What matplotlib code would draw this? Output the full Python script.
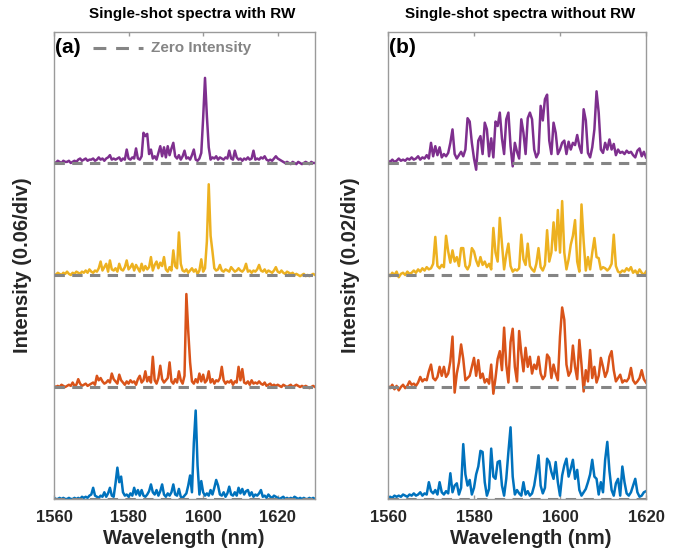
import numpy as np
import matplotlib
matplotlib.use("Agg")
import matplotlib.pyplot as plt

plt.rcParams['font.family'] = ['Liberation Sans', 'DejaVu Sans']
plt.rcParams['font.weight'] = 'bold'

# ---------------- data (intensity in % of one trace spacing) ----------------
wl_a = np.arange(1560, 1630.01, 0.5)   # panel (a) wavelength grid (nm)
wl_b = np.arange(1560, 1620.01, 0.5)   # panel (b) wavelength grid (nm)

a_purple = [1, 0, 2, 1, 0, 2, 1, 1, 2, 0,
            1, 2, 1, 3, 4, 2, 3, 4, 2, 3,
            3, 4, 2, 3, 5, 3, 4, 2, 4, 5,
            7, 3, 4, 3, 4, 5, 2, 4, 3, 12,
            4, 3, 5, 4, 13, 4, 3, 6, 27, 24,
            26, 8, 12, 4, 6, 3, 9, 15, 6, 14,
            5, 15, 7, 13, 18, 6, 4, 7, 3, 6,
            11, 4, 5, 3, 7, 12, 3, 2, 4, 9,
            40, 76, 42, 14, 3, 5, 4, 6, 3, 5,
            4, 3, 5, 4, 11, 4, 3, 11, 5, 3,
            4, 2, 4, 3, 5, 3, 4, 11, 3, 4,
            3, 5, 4, 6, 3, 2, 3, 2, 4, 6,
            4, 3, 2, 1, 0, 1, 0, -1, 1, 0,
            -1, 1, 0, -1, 0, 1, 0, -1, 1, 0,
            0]
a_yellow = [1, 0, 2, 1, 0, 2, 1, 3, 1, 0,
            2, 1, 3, 2, 1, 3, 2, 4, 2, 5,
            3, 2, 4, 3, 6, 12, 4, 7, 10, 3,
            13, 5, 4, 6, 3, 10, 5, 4, 7, 13,
            5, 7, 10, 4, 9, 6, 3, 10, 4, 8,
            5, 7, 16, 4, 9, 12, 6, 11, 8, 16,
            5, 3, 7, 4, 22, 8, 6, 38, 10, 4,
            3, 5, 2, 4, 6, 3, 5, 1, 4, 14,
            3, 6, 30, 81, 35, 21, 6, 4, 5, 9,
            4, 3, 5, 4, 3, 7, 5, 3, 4, 6,
            4, 3, 5, 10, 3, 4, 2, 4, 3, 5,
            9, 4, 3, 5, 2, 4, 3, 2, 4, 7,
            3, 2, 4, 2, 1, 3, 2, 1, 2, 0,
            1, 0, -1, 0, 1, -1, 0, -1, 0, 1,
            0]
a_orange = [1, 0, 1, 0, 2, 1, 0, 1, 2, 1,
            4, 1, 2, 7, 3, 1, 2, 3, 1, 2,
            3, 4, 2, 10, 6, 8, 5, 3, 4, 6,
            4, 12, 7, 5, 3, 11, 6, 4, 2, 5,
            3, 6, 4, 5, 2, 7, 10, 4, 6, 14,
            5, 9, 4, 27, 6, 3, 8, 19, 7, 4,
            6, 8, 22, 5, 3, 7, 4, 14, 6, 3,
            10, 83, 50, 22, 5, 3, 7, 4, 12, 5,
            11, 4, 6, 14, 4, 7, 3, 6, 5, 8,
            18, 6, 3, 5, 4, 6, 2, 5, 4, 18,
            6, 16, 4, 3, 5, 2, 6, 3, 4, 3,
            5, 3, 2, 4, 1, 2, 3, 1, 2, 1,
            2, 1, 0, 2, 1, 0, 1, 2, 0, 1,
            2, 1, 0, 1, 0, 1, 0, -1, 0, 1,
            0]
a_blue = [1, 0, 0, 1, 0, 1, 0, 0, 1, 0,
          0, 1, 0, 1, 0, 2, 1, 2, 1, 3,
          4, 10, 3, 2, 1, 3, 2, 6, 2, 5,
          10, 3, 2, 14, 28, 15, 20, 6, 3, 4,
          2, 5, 3, 10, 4, 8, 3, 8, 3, 2,
          4, 7, 13, 6, 4, 8, 3, 7, 13, 4,
          2, 5, 3, 6, 13, 4, 3, 9, 2, 1,
          3, 5, 12, 21, 6, 50, 79, 30, 4, 16,
          6, 3, 5, 3, 8, 4, 10, 17, 12, 4,
          3, 6, 2, 5, 11, 4, 3, 6, 3, 10,
          5, 9, 4, 7, 8, 3, 6, 2, 4, 3,
          5, 8, 2, 3, 1, 4, 2, 1, 3, 2,
          1, 0, 1, 2, 0, 1, 0, 1, 0, 2,
          1, 0, 1, 0, 1, 0, 0, 1, 0, 1,
          0]

b_purple = [2, 1, 3, 1, 2, 4, 2, 3, 2, 4,
            3, 5, 3, 4, 6, 3, 5, 4, 7, 4,
            18, 6, 15, 7, 14, 5, 8, 6, 9, 18,
            30, 8, 4, 7, 10, 6, 12, 40, 37, 18,
            4, -6, 20, 24, 8, 36, 30, 6, 22, 5,
            37, 33, 45, 22, 8, 39, 45, 15, -3, 18,
            10, 4, 39, 27, 8, 40, 45, 39, 12, 5,
            9, 51, 38, 57, 61, 20, 8, 36, 27, 8,
            12, 18, 20, 8, 19, 12, 18, 16, 25, 15,
            9, 48, 38, 9, 5, 14, 30, 64, 45, 12,
            9, 18, 12, 21, 12, 17, 7, 12, 9, 10,
            8, 11, 9, 10, 7, 5, 11, 13, 6, 10,
            5]
b_yellow = [1, -1, 2, 0, 3, -2, 1, 2, 0, 3,
            1, 2, 4, 2, 5, 3, 6, 4, 7, 5,
            6, 10, 34, 8, 6, 9, 7, 35, 21, 11,
            22, 12, 16, 8, 24, 24, 8, 5, 9, 24,
            21, 13, 8, 16, 9, 12, 7, 10, 5, 42,
            20, 12, 51, 28, 5, 18, 28, 8, 3, 5,
            4, 6, 36, 14, 9, 28, 8, 5, 3, 10,
            24, 7, 4, 9, 40, 12, 20, 47, 22, 58,
            20, 66, 20, 5, 14, 27, 35, 49, 12, 3,
            63, 30, 4, 16, 5, 20, 33, 16, 15, 5,
            7, 6, 4, 6, 10, 36, 8, 3, 2, 4,
            3, 6, 4, 7, 2, 4, 1, 5, 2, 0,
            3]
b_orange = [1, -1, 2, -2, 1, -3, 0, 2, -1, 1,
            5, 2, 3, 1, 4, 9, 5, 7, 6, 14,
            20, 8, 6, 9, 18, 10, 18, 9, 12, 23,
            45, -5, 12, 22, 38, 25, 6, 8, 10, 18,
            26, 10, 24, 8, 12, 4, 7, 3, 20, -6,
            8, 25, 32, 15, 53, 20, 4, 40, 52, 18,
            5, 50, 30, 14, 35, 18, 27, 12, 20, 16,
            27, 12, 7, 10, 29, 26, 8, 20, 12, 6,
            45, 71, 60, 20, 10, 14, 37, 18, 7, 42,
            20, -4, 15, 5, 33, 8, 18, 4, 10, 26,
            18, 9, 14, 27, 32, 15, 5, 8, 11, 4,
            6, 5, 8, 17, 6, 3, 5, 8, 15, 7,
            4]
b_blue = [1, 2, 1, 3, 2, 3, 2, 4, 3, 2,
          4, 3, 5, 3, 4, 6, 3, 5, 4, 15,
          7, 5, 8, 4, 15, 6, 4, 7, 5, 23,
          6, 12, 14, 4, 10, 49, 22, 12, 17, 4,
          10, 22, 29, 43, 42, 15, 3, 9, 45, 20,
          18, 33, 34, 12, 3, 18, 42, 64, 20, 4,
          8, 5, 3, 15, 4, 7, 3, 5, 12, 24,
          39, 12, 5, 10, 36, 33, 24, 18, 33, 15,
          3, 21, 30, 36, 20, 27, 35, 18, 26, 8,
          3, 6, 9, 15, 22, 35, 20, 18, 4, 15,
          6, 35, 51, 25, 8, 3, 14, 18, 3, 29,
          15, 5, 3, 6, 12, 18, 6, 2, 3, 6,
          7]

xticks_a = [1560, 1580, 1600, 1620]
xticks_b = [1560, 1580, 1600, 1620]
titles = ["Single-shot spectra with RW", "Single-shot spectra without RW"]
ylabels = ["Intensity (0.06/div)", "Intensity (0.02/div)"]
panel_tags = ["(a)", "(b)"]
xlabel = "Wavelength (nm)"
legend_text = "Zero Intensity"

colors = ['#0072BD', '#D95319', '#EDB120', '#7E2F8E']  # bottom -> top
spine_col = '#9a9a9a'
zero_col = '#858585'
text_col = '#262626'

W, H = 682, 556
fig = plt.figure(figsize=(W / 100, H / 100), dpi=100)
axA = fig.add_axes([54 / W, (H - 499) / H, 261 / W, 467 / H])
axB = fig.add_axes([388 / W, (H - 499) / H, 258 / W, 467 / H])

panels = [
    (axA, wl_a, [a_blue, a_orange, a_yellow, a_purple], (1560, 1630), xticks_a),
    (axB, wl_b, [b_blue, b_orange, b_yellow, b_purple], (1560, 1620), xticks_b),
]

for i, (ax, wl, series, xlim, xt) in enumerate(panels):
    for k, (vals, c) in enumerate(zip(series, colors)):
        ax.plot(wl, np.asarray(vals) / 100.0 + k, color=c, lw=1.8, zorder=2,
                solid_joinstyle='round')
        ax.axhline(k, color=zero_col, lw=2.2, dashes=(3.4, 2.4), zorder=3)
    ax.set_xlim(*xlim)
    ax.set_ylim(0, 467 / 112)
    ax.set_xticks(xt)
    ax.set_yticks([])
    ax.tick_params(axis='x', direction='in', top=True, bottom=True, length=3,
                   width=1, color=spine_col, labelsize=12, labelcolor=text_col, pad=8)
    for lab in ax.get_xticklabels():
        lab.set_fontweight('bold')
    for s in ax.spines.values():
        s.set_color(spine_col)
        s.set_linewidth(1.0)
    ax.text(0.004, 0.966, panel_tags[i], transform=ax.transAxes, fontsize=15,
            fontweight='bold', color='black', ha='left', va='center')

# legend entry in panel (a)
axA.plot([0.149, 0.341], [0.966, 0.966], transform=axA.transAxes, color=zero_col,
         lw=2.2, dashes=(4.2, 3.2), clip_on=False)
axA.text(0.372, 0.966, legend_text, transform=axA.transAxes, fontsize=11,
         fontweight='bold', color=zero_col, ha='left', va='center')

# titles, axis labels
fig.text(192 / W, 1 - 14 / H, titles[0], ha='center', va='center', fontsize=11,
         fontweight='bold', color='black')
fig.text(520 / W, 1 - 14 / H, titles[1], ha='center', va='center', fontsize=11,
         fontweight='bold', color='black')
fig.text(23 / W, 1 - 265 / H, ylabels[0], rotation=90, ha='center', va='center',
         fontsize=14.5, fontweight='bold', color=text_col)
fig.text(351 / W, 1 - 265 / H, ylabels[1], rotation=90, ha='center', va='center',
         fontsize=14.5, fontweight='bold', color=text_col)
fig.text(184 / W, 1 - 538 / H, xlabel, ha='center', va='center', fontsize=14.5,
         fontweight='bold', color=text_col)
fig.text(531 / W, 1 - 538 / H, xlabel, ha='center', va='center', fontsize=14.5,
         fontweight='bold', color=text_col)

fig.savefig('out.png', dpi=100)
